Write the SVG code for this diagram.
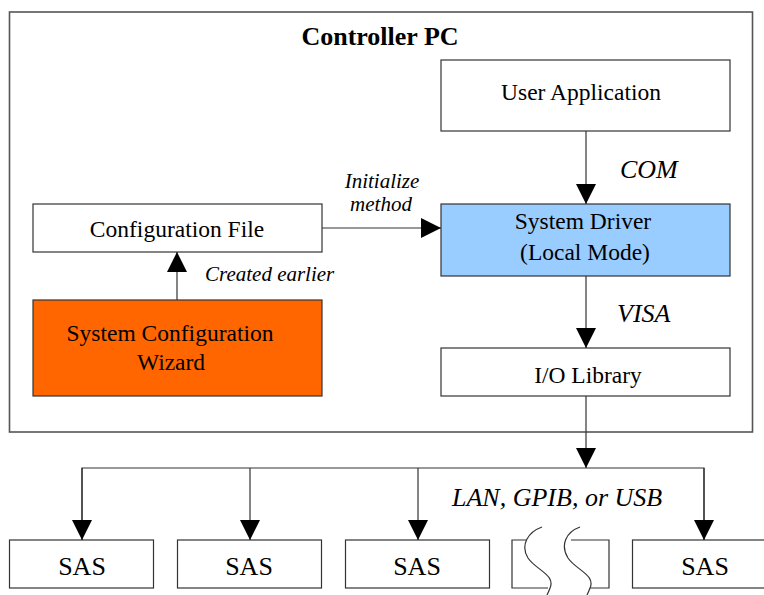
<svg xmlns="http://www.w3.org/2000/svg" width="764" height="595" viewBox="0 0 764 595">
<defs>
<marker id="arr" markerUnits="userSpaceOnUse" markerWidth="21" markerHeight="21" refX="20" refY="10" orient="auto">
<path d="M0,0 L20,10 L0,20 z" fill="#000"/>
</marker>
<style>
.box{fill:#fff;stroke:#333;stroke-width:1.2}
.t{font-family:"Liberation Serif","Times New Roman",serif;font-size:23.5px;fill:#000;text-anchor:middle}
.b{font-weight:bold;font-size:26px}
.i{font-family:"Liberation Serif","Times New Roman",serif;font-style:italic;fill:#000}
.lbl{font-size:26px}
.sm{font-size:21px}
.c{fill:none;stroke:#333;stroke-width:1.2}
.sas{font-size:26px}
</style>
</defs>
<rect x="0" y="0" width="764" height="595" fill="#fff"/>
<g id="controller-pc">
<rect x="9.5" y="12" width="743" height="420" fill="none" stroke="#555" stroke-width="1.6"/>
<text class="t b" x="380" y="45">Controller PC</text>
</g>
<g id="user-application">
<rect class="box" x="441" y="60" width="289" height="71"/>
<text class="t" x="581" y="100">User Application</text>
</g>
<g id="system-driver">
<rect class="box" x="441" y="204" width="289" height="72" style="fill:#99CCFF"/>
<text class="t" x="583" y="229">System Driver</text>
<text class="t" x="585" y="260">(Local Mode)</text>
</g>
<g id="io-library">
<rect class="box" x="441" y="348" width="289" height="48"/>
<text class="t" x="588" y="383">I/O Library</text>
</g>
<g id="configuration-file">
<rect class="box" x="33" y="204" width="289" height="48"/>
<text class="t" x="177" y="237">Configuration File</text>
</g>
<g id="wizard">
<rect class="box" x="33" y="300" width="289" height="96" style="fill:#FF6600"/>
<text class="t" x="170" y="341">System Configuration</text>
<text class="t" x="171" y="370">Wizard</text>
</g>
<g id="sas1">
<rect class="box" x="9.5" y="540" width="144" height="48"/>
<text class="t sas" x="82" y="575">SAS</text>
</g>
<g id="sas2">
<rect class="box" x="177.5" y="540" width="144" height="48"/>
<text class="t sas" x="249" y="575">SAS</text>
</g>
<g id="sas3">
<rect class="box" x="345.5" y="540" width="144" height="48"/>
<text class="t sas" x="417" y="575">SAS</text>
</g>
<g id="sas-more">
<path class="c" d="M526,540 H512 V588 H548"/>
<path class="c" d="M571,540 H609 V588 H590"/>
<path class="c" d="M542,527 C528,532 520,545 528,558 C536,570 556,575 550,588 C549,591 548,593 547,595"/>
<path class="c" d="M580,527 C566,532 560,545 568,558 C576,570 596,575 590,588 C589,591 588,593 587,595"/>
</g>
<g id="sas4">
<rect class="box" x="632.5" y="540" width="144" height="48"/>
<text class="t sas" x="705" y="575">SAS</text>
</g>
<g id="connectors">
<line class="c" x1="586" y1="131" x2="586" y2="204" marker-end="url(#arr)"/>
<line class="c" x1="586" y1="276" x2="586" y2="348" marker-end="url(#arr)"/>
<line class="c" x1="322" y1="228" x2="441" y2="228" marker-end="url(#arr)"/>
<line class="c" x1="177" y1="300" x2="177" y2="252" marker-end="url(#arr)"/>
<line class="c" x1="586" y1="396" x2="586" y2="468" marker-end="url(#arr)"/>
<polyline class="c" points="82,540 82,468 704,468 704,540"/>
<line class="c" x1="82" y1="468" x2="82" y2="540" marker-end="url(#arr)"/>
<line class="c" x1="250" y1="468" x2="250" y2="540" marker-end="url(#arr)"/>
<line class="c" x1="418" y1="468" x2="418" y2="540" marker-end="url(#arr)"/>
<line class="c" x1="704" y1="468" x2="704" y2="540" marker-end="url(#arr)"/>
<text class="i lbl" x="620" y="178">COM</text>
<text class="i lbl" x="617" y="322">VISA</text>
<text class="i lbl" x="452" y="506">LAN, GPIB, or USB</text>
<text class="i sm" x="382" y="188" text-anchor="middle">Initialize</text>
<text class="i sm" x="381" y="211" text-anchor="middle">method</text>
<text class="i sm" x="205" y="281">Created earlier</text>
</g>
</svg>
